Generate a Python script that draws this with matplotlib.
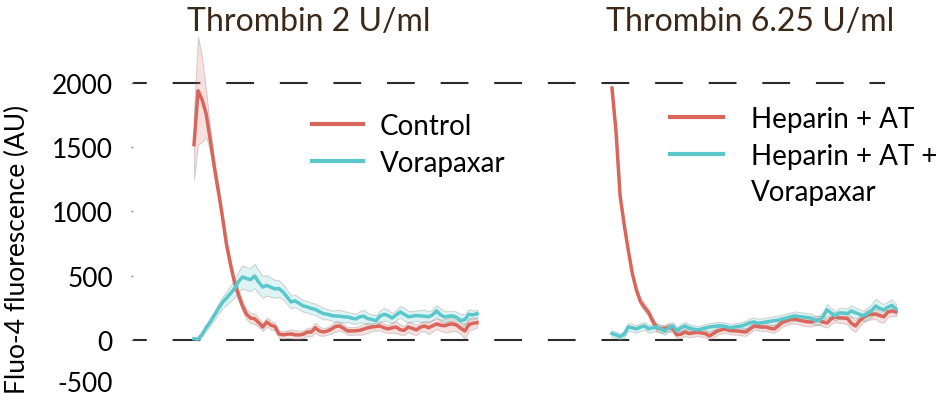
import numpy as np
import matplotlib
matplotlib.use("Agg")
import matplotlib.pyplot as plt
from matplotlib.lines import Line2D
from matplotlib.transforms import ScaledTranslation

plt.rcParams['font.family'] = ['Lato', 'DejaVu Sans']
plt.rcParams['lines.scale_dashes'] = False

# ---- data ----
titles = ["Thrombin 2 U/ml", "Thrombin 6.25 U/ml"]
ylabel = "Fluo-4 fluorescence (AU)"
ytick_values = [-500, 0, 500, 1000, 1500, 2000]
ref_levels = [0, 2000]

control = [1520, 1940, 1870, 1760, 1560, 1350, 1160, 965, 750, 590,
           450, 350, 265, 200, 170, 165, 135, 101, 140, 115,
           105, 47, 40, 45, 47, 40, 39, 45, 62, 62,
           95, 70, 62, 70, 85, 105, 109, 90, 70, 70,
           72, 75, 85, 95, 101, 105, 109, 95, 86, 95,
           101, 80, 75, 101, 90, 78, 100, 109, 95, 110,
           125, 115, 110, 122, 125, 115, 90, 70, 120, 130,
           135]
control_sem = [270, 420, 330, 180, 90, 60, 50, 45, 40, 40,
               40, 40, 40, 40, 40, 40, 35, 30, 35, 35,
               30, 30, 30, 30, 35, 35, 35, 30, 30, 35,
               40, 35, 30, 30, 35, 40, 35, 30, 30, 30,
               30, 35, 40, 40, 30, 30, 35, 35, 30, 40,
               45, 40, 35, 40, 45, 40, 35, 40, 50, 45,
               40, 45, 50, 60, 55, 50, 45, 60, 50, 45,
               40]
vorapaxar = [10, 5, 45, 95, 140, 190, 241, 290, 325, 360,
             400, 455, 490, 478, 470, 498, 450, 412, 425, 410,
             398, 400, 374, 335, 296, 304, 285, 265, 258, 245,
             238, 220, 205, 200, 190, 187, 185, 180, 179, 170,
             163, 180, 185, 165, 160, 150, 185, 200, 190, 170,
             195, 218, 200, 180, 185, 190, 187, 185, 180, 195,
             226, 195, 179, 185, 187, 175, 150, 160, 200, 195,
             205]
vorapaxar_sem = [10, 10, 20, 25, 30, 35, 40, 45, 50, 60,
                 70, 80, 90, 90, 90, 95, 90, 85, 80, 75,
                 70, 65, 60, 55, 50, 50, 45, 45, 45, 45,
                 45, 45, 45, 40, 40, 45, 50, 45, 40, 40,
                 40, 45, 50, 45, 40, 40, 45, 50, 45, 40,
                 40, 45, 50, 45, 40, 40, 45, 50, 45, 40,
                 45, 50, 45, 40, 40, 45, 50, 45, 40, 35,
                 30]

hep_at = [1960, 1620, 1121, 900, 700, 520, 390, 300, 255, 215,
          150, 95, 85, 90, 100, 86, 40, 45, 62, 50,
          55, 62, 55, 50, 31, 50, 70, 80, 86, 75,
          72, 70, 65, 62, 85, 109, 105, 100, 101, 90,
          86, 110, 140, 150, 160, 163, 155, 148, 142, 140,
          150, 155, 140, 132, 165, 179, 172, 171, 168, 130,
          109, 148, 175, 194, 200, 202, 190, 180, 218, 226,
          220]
hep_at_sem = [25, 25, 25, 25, 25, 25, 25, 30, 30, 30,
              30, 30, 30, 30, 30, 30, 30, 30, 30, 30,
              30, 30, 30, 30, 30, 30, 30, 30, 30, 30,
              30, 30, 30, 30, 30, 30, 30, 30, 30, 30,
              30, 35, 35, 35, 35, 35, 35, 35, 35, 35,
              35, 35, 35, 35, 40, 40, 40, 40, 45, 50,
              45, 40, 40, 40, 40, 40, 50, 45, 40, 40,
              35]
hep_at_vora = [50, 40, 25, 45, 101, 95, 86, 100, 109, 86,
               95, 101, 85, 70, 95, 109, 70, 95, 109, 93,
               85, 78, 85, 93, 100, 105, 109, 110, 105, 95,
               100, 105, 109, 120, 135, 140, 130, 135, 140, 145,
               150, 155, 163, 170, 178, 187, 183, 179, 175, 170,
               155, 150, 180, 235, 210, 187, 210, 210, 205, 226,
               212, 200, 187, 205, 230, 265, 245, 235, 255, 270,
               240]
hep_at_vora_sem = [25, 25, 25, 25, 30, 30, 30, 30, 30, 30,
                   30, 30, 30, 30, 30, 30, 30, 30, 30, 30,
                   30, 30, 30, 30, 30, 30, 30, 30, 30, 30,
                   30, 30, 30, 30, 35, 35, 35, 35, 35, 35,
                   35, 35, 35, 35, 35, 35, 35, 35, 35, 35,
                   35, 35, 40, 45, 40, 35, 40, 40, 40, 45,
                   40, 40, 40, 45, 50, 55, 50, 45, 45, 45,
                   40]

labels_left = ["Control", "Vorapaxar"]
labels_right = ["Heparin + AT", "Heparin + AT +", "Vorapaxar"]

red = "#d9665c"
cyan = "#5ac7cb"
title_color = "#3b2818"

W, H = 940, 402
fig = plt.figure(figsize=(W / 100, H / 100), dpi=100)


def px_box(x0, x1, y_top, y_bot):
    return [x0 / W, (H - y_bot) / H, (x1 - x0) / W, (y_bot - y_top) / H]


ylim = (-505, 2420)
y_top_px, y_bot_px = 30, 30 + (ylim[1] - ylim[0]) * 0.1285

# dashed reference lines run across both panels
bg = fig.add_axes(px_box(133, 885, y_top_px, y_bot_px))
bg.set_ylim(*ylim)
bg.axis("off")
for lvl in ref_levels:
    bg.axhline(lvl, color="#2b2b2b", lw=1.5, solid_capstyle="butt",
               dash_capstyle="butt", linestyle=(10.1, (20.0, 18.6)))

axL = fig.add_axes(px_box(133, 553, y_top_px, y_bot_px))
axR = fig.add_axes(px_box(553, 900, y_top_px, y_bot_px))


def band(ax, y, sem, color):
    y = np.array(y, float)
    s = np.array(sem, float)
    x = np.arange(len(y))
    ax.fill_between(x, y - s, y + s, facecolor=matplotlib.colors.to_rgba(color, 0.2),
                    edgecolor=(0.5, 0.5, 0.5, 0.3), linewidth=0.8)
    ax.plot(x, y, color=color, lw=2.5, solid_joinstyle="round")


band(axL, control, control_sem, red)
band(axL, vorapaxar, vorapaxar_sem, cyan)
band(axR, hep_at, hep_at_sem, red)
band(axR, hep_at_vora, hep_at_vora_sem, cyan)

axL.set_xlim(-15.09, -15.09 + 420 / 4.043)
axR.set_xlim(-14.54, -14.54 + 347 / 4.057)

for ax in (axL, axR):
    ax.set_ylim(*ylim)
    ax.patch.set_alpha(0)
    for sp in ax.spines.values():
        sp.set_visible(False)
    ax.set_xticks([])

axL.set_yticks(ytick_values)
axL.set_yticklabels([str(v) for v in ytick_values])
axL.tick_params(axis="y", length=1.5, width=1.0, color="#888888", pad=13,
                labelsize=19, labelcolor="black")
axR.set_yticks([])
# bottom label sits just inside the picture
lab = axL.yaxis.get_major_ticks()[0].label1
lab.set_transform(lab.get_transform() + ScaledTranslation(0, 23 / 100, fig.dpi_scale_trans))

fig.text(17 / W, 1 - 249 / H, ylabel, rotation=90, ha="center", va="center",
         fontsize=19, color="black")

fig.text(309 / W, 1 - 22 / H, titles[0], ha="center", va="center",
         fontsize=23, color=title_color)
fig.text(750 / W, 1 - 22 / H, titles[1], ha="center", va="center",
         fontsize=23, color=title_color)

legL = axL.legend(
    [Line2D([], [], color=red, lw=3), Line2D([], [], color=cyan, lw=3)],
    labels_left, loc="upper left", bbox_to_anchor=(312 / W, 1 - 114 / H),
    bbox_transform=fig.transFigure, frameon=False, fontsize=20,
    handlelength=1.83, handletextpad=0.6, labelspacing=0.38,
    borderpad=0, borderaxespad=0)
legR = axR.legend(
    [Line2D([], [], color=red, lw=3), Line2D([], [], color=cyan, lw=3),
     Line2D([], [], color="none")],
    labels_right, loc="upper left", bbox_to_anchor=(670 / W, 1 - 107 / H),
    bbox_transform=fig.transFigure, frameon=False, fontsize=20,
    handlelength=1.9, handletextpad=1.0, labelspacing=0.38,
    borderpad=0, borderaxespad=0)

fig.savefig("out.png", dpi=100)
